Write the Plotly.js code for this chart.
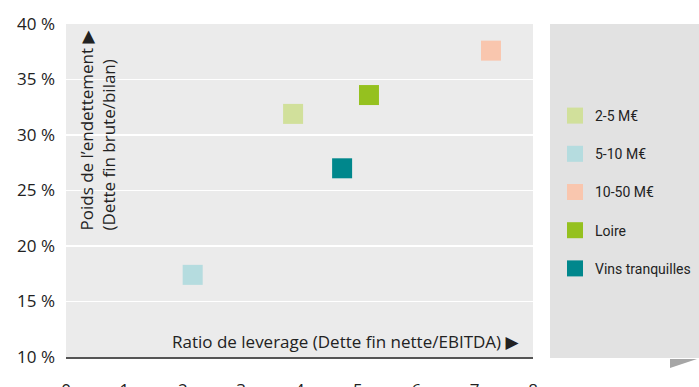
<!DOCTYPE html>
<html><head><meta charset="utf-8">
<script src="https://cdn.plot.ly/plotly-3.0.1.min.js"></script>
<style>html,body{margin:0;padding:0;background:#fff}#chart{width:699px;height:387px}</style>
</head><body><div id="chart"></div>
<script>
const seriesNames = ["2-5 M€", "5-10 M€", "10-50 M€", "Loire", "Vins tranquilles"];
const leverage = [3.89, 2.17, 7.28, 5.19, 4.73];
const debtShare = [31.9, 17.4, 37.6, 33.6, 27.0];
const colors = ["#d1e09b", "#b5dcdf", "#f9c6ae", "#95c11f", "#00878c"];
const yTicks = [10, 15, 20, 25, 30, 35, 40];
const yTickText = ["10 %", "15 %", "20 %", "25 %", "30 %", "35 %", "40 %"];
const xTicks = [0, 1, 2, 3, 4, 5, 6, 7, 8];

const font = "'Open Sans', 'DejaVu Sans', sans-serif";
const legFont = "'Roboto', sans-serif";

const traces = seriesNames.map((n, i) => ({
  type: "scatter", mode: "markers", name: n,
  x: [leverage[i]], y: [debtShare[i]],
  legendgroup: "g" + i,
  marker: {symbol: "square", size: 20, color: colors[i]},
  hoverinfo: "x+y+name"
}));

const layout = {
  width: 699, height: 387,
  margin: {l: 66, r: 166, t: 24, b: 30},
  paper_bgcolor: "#ffffff", plot_bgcolor: "#ebebeb",
  font: {family: font, size: 16, color: "#222"},
  xaxis: {range: [0, 8], tickvals: xTicks, showgrid: false, zeroline: false,
          showline: true, linecolor: "#555", linewidth: 2, ticks: "", automargin: false,
          ticklabelstandoff: 17, tickfont: {size: 17, color: "#222"}, fixedrange: true},
  yaxis: {range: [10, 40], tickvals: yTicks, ticktext: yTickText, showgrid: true,
          gridcolor: "#ffffff", gridwidth: 1.5, zeroline: false, showline: false, ticks: "",
          automargin: false,
          ticklabelstandoff: 10, tickfont: {size: 17, color: "#222"}, fixedrange: true},
  showlegend: true,
  legend: {xref: "container", yref: "container", x: 555 / 699, y: 1 - 100 / 387,
           xanchor: "left", yanchor: "top", bgcolor: "rgba(0,0,0,0)",
           font: {family: legFont, size: 14, color: "#222"}, traceorder: "grouped",
           tracegroupgap: 17, itemwidth: 30},
  shapes: [
    {type: "rect", xref: "paper", yref: "paper", x0: (550 - 66) / 467, x1: (699 - 66) / 467,
     y0: -0.003, y1: 1, fillcolor: "#e2e2e2", line: {width: 0}, layer: "below"},
    {type: "path", xref: "paper", yref: "paper",
     path: "M " + ((670 - 66) / 467) + " -0.006 L " + ((697 - 66) / 467) + " -0.006 L " +
           ((670 - 66) / 467) + " -0.033 Z",
     fillcolor: "#a6a6a6", line: {width: 0}}
  ],
  annotations: [
    {xref: "paper", yref: "paper", x: (522 - 66) / 467, y: (357 - 341) / 333,
     xanchor: "right", yanchor: "middle", showarrow: false,
     text: "Ratio de leverage (Dette fin nette/EBITDA) ▶", font: {size: 17, color: "#222"}},
    {xref: "paper", yref: "paper", x: (97 - 66) / 467, y: (357 - 233) / 333,
     xanchor: "center", yanchor: "bottom", showarrow: false, textangle: -90, align: "left",
     text: "Poids de l’endettement ▶<br>(Dette fin brute/bilan)", font: {size: 17, color: "#222"}}
  ]
};
Plotly.newPlot("chart", traces, layout, {displayModeBar: false, staticPlot: true});
</script></body></html>
